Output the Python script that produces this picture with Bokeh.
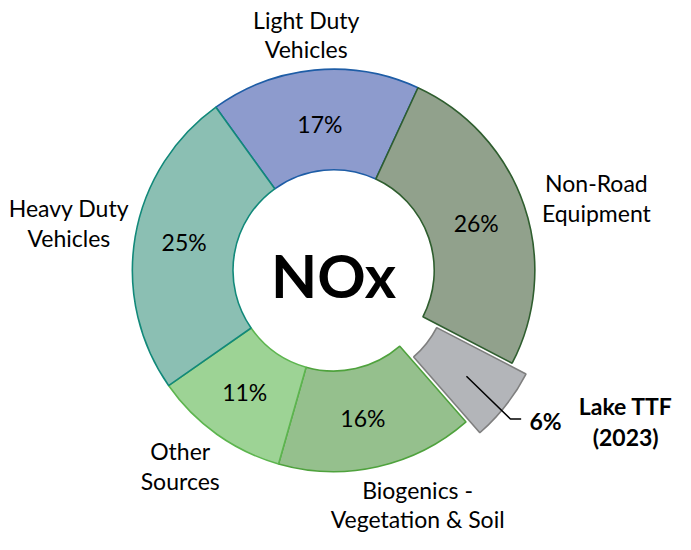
import numpy as np
from bokeh.plotting import figure
from bokeh.models import Range1d, ColumnDataSource
from bokeh.core.properties import value
from bokeh.embed import file_html
from bokeh.resources import INLINE

# ---- data ----
categories = ["Light Duty Vehicles", "Non-Road Equipment", "Lake TTF (2023)",
              "Biogenics - Vegetation & Soil", "Other Sources", "Heavy Duty Vehicles"]
shares = [17, 26, 6, 16, 11, 25]
pct_labels = ["17%", "26%", "6%", "16%", "11%", "25%"]
exploded = [False, False, True, False, False, False]
cat_lines = [["Light Duty", "Vehicles"], ["Non-Road", "Equipment"], ["Lake TTF", "(2023)"],
             ["Biogenics -", "Vegetation & Soil"], ["Other", "Sources"], ["Heavy Duty", "Vehicles"]]
center_title = "NOx"

# ---- styles ----
fills = ["#8D9BCD", "#91A18C", "#B3B5B9", "#95C08D", "#9DD395", "#8BBFB3"]
edges_c = ["#1E5DA6", "#2F5E2F", "#7F7F7F", "#4FA23D", "#5DB54F", "#12897A"]
FONT = "Lato"

W, H = 675, 534
# data units = pixel positions of a 691 x 550 canvas, scaled into the figure
p = figure(width=W, height=H, x_range=Range1d(0, 691), y_range=Range1d(0, 550),
           output_backend="svg", toolbar_location=None, min_border=0,
           x_axis_location=None, y_axis_location=None)
p.grid.visible = False
p.outline_line_color = None
p.background_fill_color = "white"


def Y(sy):
    return 550 - sy


cx, cy = 341, Y(278)
R_IN, R_OUT = 103, 206
START = -35.8      # degrees clockwise from 12 o'clock
EXPLODE = 18

frac = np.array(shares, dtype=float) / sum(shares)
edges = START + np.concatenate([[0], np.cumsum(frac) * 360])

xs, ys, sa, ea = [], [], [], []
for i in range(len(shares)):
    t1, t2 = edges[i], edges[i + 1]
    mid = np.radians((t1 + t2) / 2)
    off = EXPLODE if exploded[i] else 0
    xs.append(cx + off * np.sin(mid))
    ys.append(cy + off * np.cos(mid))
    sa.append(np.radians(90 - t2))
    ea.append(np.radians(90 - t1))

src = ColumnDataSource(dict(x=xs, y=ys, sa=sa, ea=ea, fill=fills, edge=edges_c,
                            cat=categories, ex=exploded))

# white halo behind the exploded slice
for i in range(len(shares)):
    if exploded[i]:
        p.annular_wedge(x=xs[i], y=ys[i], inner_radius=R_IN, outer_radius=R_OUT,
                        start_angle=sa[i], end_angle=ea[i], fill_color=None,
                        line_color="white", line_width=6)

p.annular_wedge(x="x", y="y", inner_radius=R_IN, outer_radius=R_OUT,
                start_angle="sa", end_angle="ea", fill_color="fill",
                line_color="edge", line_width=1.6, source=src)

FS = "23px"
# percentage labels (reference pixel positions)
pct_pos = [(327, 127), (487, 229), (558, 433), (371, 430), (250, 403), (188, 249)]
for i, (sx, sy) in enumerate(pct_pos):
    p.text(x=[sx], y=[Y(sy)], text=[pct_labels[i]], text_align="center",
           text_baseline="middle", text_font=value(FONT), text_font_size=FS,
           text_color="black", text_font_style="bold" if exploded[i] else "normal")

# category labels (reference pixel positions of line centres)
cat_pos = [(313, [20, 50]), (610, [188, 219]), (640, [418, 450]),
           (427, [504, 534]), (184, [464, 495]), (70, [214, 245])]
for i, (sx, sys_) in enumerate(cat_pos):
    for line, sy in zip(cat_lines[i], sys_):
        p.text(x=[sx], y=[Y(sy)], text=[line], text_align="center",
               text_baseline="middle", text_font=value(FONT), text_font_size=FS,
               text_color="black", text_font_style="bold" if exploded[i] else "normal")

# leader line for the exploded slice
p.line(x=[477, 522, 533], y=[Y(387), Y(431), Y(431)], line_color="black", line_width=1.5)

# centre title
p.text(x=[cx], y=[cy - 5], text=[center_title], text_align="center", text_baseline="middle",
       text_font=value(FONT), text_font_size="60px", text_font_style="bold",
       text_color="black")

open("out.html", "w").write(file_html(p, INLINE))
